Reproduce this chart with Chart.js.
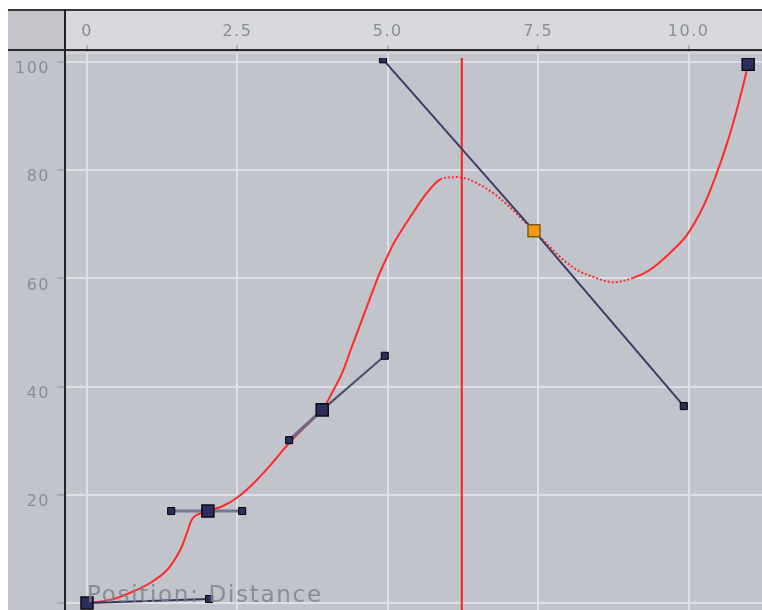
<!DOCTYPE html>
<html>
<head>
<meta charset="utf-8">
<script src="https://cdn.jsdelivr.net/npm/chart.js@4/dist/chart.umd.min.js"></script>
<style>
html,body{margin:0;padding:0;background:#fff;}
canvas{display:block;}
</style>
</head>
<body>
<canvas id="c" width="762" height="610"></canvas>
<script>
// ---- data ----
const keyX = [0, 2.01, 3.91, 7.43, 10.99];
const keyY = [0, 17.0, 35.7, 68.8, 99.6];
const selectedKey = 3;

const handleKey = [0, 1, 1, 2, 2, 3, 3];
const handleX = [2.03, 1.40, 2.58, 3.36, 4.95, 4.92, 9.92];
const handleY = [0.74, 17.0, 17.0, 30.1, 45.7, 100.5, 36.4];

const curveX = [0, 0.38, 0.71, 1.05, 1.33, 1.55, 1.66, 1.76, 1.93, 2.01,
  2.26, 2.51, 2.79, 3.08, 3.36, 3.62, 3.91,
  4.07, 4.24, 4.40, 4.62, 4.84, 4.99, 5.12, 5.37, 5.65, 5.87, 6.07, 6.25, 6.48, 6.75, 6.98, 7.20, 7.43,
  7.86, 8.14, 8.41, 8.74, 9.08, 9.36, 9.69, 9.97, 10.24, 10.44, 10.64, 10.80, 10.94, 10.99];
const curveY = [0, 0.55, 1.85, 3.70, 6.10, 9.80, 12.94, 15.71, 16.82, 17.0,
  17.93, 19.59, 22.37, 25.88, 29.57, 32.53, 35.7,
  38.8, 42.5, 47.3, 53.8, 60.3, 64.0, 66.9, 71.3, 75.8, 78.3, 78.7, 78.6, 77.6, 75.8, 73.7, 71.3, 68.8,
  64.0, 61.6, 60.3, 59.3, 60.1, 61.6, 64.7, 68.0, 73.2, 78.6, 85.0, 91.1, 97.2, 99.6];

const cursorX = 6.23;
const cursorYRange = [-5, 110];

const xTicks = [0, 2.5, 5, 7.5, 10];
const xTickLabels = ['0', '2.5', '5.0', '7.5', '10.0'];
const yTicks = [0, 20, 40, 60, 80, 100];
const yTickLabels = ['', '20', '40', '60', '80', '100'];

const curveName = 'Position: Distance';

// ---- styling ----
const handleStyles = [
  {c:'#34365f', w:2}, {c:'#777994', w:3}, {c:'#777994', w:3},
  {c:'#6a6c8c', w:3}, {c:'#4a4c72', w:2}, {c:'#3b3d66', w:2}, {c:'#3b3d66', w:2}
];
const topClip = {left: 0, top: -6, right: 0, bottom: 0};

const datasets = [];
datasets.push({
  label: 'cursor',
  data: cursorYRange.map(y => ({x: cursorX, y})),
  borderColor: '#ff1e1e', borderWidth: 2, pointRadius: 0, order: 6, clip: topClip
});
datasets.push({
  label: curveName,
  data: curveX.map((x, i) => ({x, y: curveY[i]})),
  borderColor: '#ff2a2a', borderWidth: 2, pointRadius: 0,
  tension: 0.35, order: 5, clip: topClip,
  segment: {
    borderDash: ctx => (ctx.p0.parsed.x >= 5.85 && ctx.p1.parsed.x <= 9.2) ? [2, 2] : undefined
  }
});
handleX.forEach((hx, i) => {
  const k = handleKey[i];
  const st = handleStyles[i];
  datasets.push({
    label: 'handle' + i,
    data: [{x: keyX[k], y: keyY[k]}, {x: hx, y: handleY[i]}],
    borderColor: st.c, borderWidth: st.w,
    pointStyle: 'rect',
    pointRadius: ctx => ctx.dataIndex === 1 ? 5 : 0,
    pointBackgroundColor: '#2b2d5c', pointBorderColor: '#000', pointBorderWidth: 1,
    order: 3, clip: topClip
  });
});
datasets.push({
  label: 'keys',
  data: keyX.map((x, i) => ({x, y: keyY[i]})),
  showLine: false,
  pointStyle: 'rect', pointRadius: 8.5,
  pointBackgroundColor: ctx => ctx.dataIndex === selectedKey ? '#f39a12' : '#2c2e5e',
  pointBorderColor: ctx => ctx.dataIndex === selectedKey ? '#7a6014' : '#0c0c14',
  pointBorderWidth: 1.5, order: 1, clip: topClip
});

const tickFont = {family: 'DejaVu Sans', size: 16};
const labelColor = '#8b8d96';

const frame = {
  id: 'frame',
  beforeDraw(chart) {
    const c = chart.ctx;
    c.save();
    c.fillStyle = '#ffffff'; c.fillRect(0, 0, 762, 610);
    c.fillStyle = '#c1c4cb'; c.fillRect(8, 50, 754, 560);
    c.fillStyle = '#d8d9de'; c.fillRect(65, 10, 697, 40);
    c.fillStyle = '#c3c5cb'; c.fillRect(8, 10, 57, 40);
    c.fillStyle = '#d2d4da'; c.fillRect(66, 52, 696, 2);
    c.restore();
    c.letterSpacing = '1.5px';
  },
  beforeDatasetsDraw(chart) {
    const c = chart.ctx;
    c.save();
    c.fillStyle = '#3a3a3e'; c.fillRect(8, 9, 754, 2);
    c.fillStyle = '#2a2a2e'; c.fillRect(8, 49, 754, 2);
    c.fillStyle = '#222226'; c.fillRect(64, 9, 2, 601);
    c.restore();
  },
  afterDraw(chart) {
    const c = chart.ctx;
    c.save();
    c.letterSpacing = '1.7px';
    c.font = '23px "DejaVu Sans"';
    c.fillStyle = 'rgba(128,130,140,0.85)';
    c.textBaseline = 'alphabetic';
    c.textAlign = 'left';
    c.fillText(curveName, 87, 602);
    c.restore();
  }
};

const noPad = s => { s.paddingTop = 0; s.paddingBottom = 0; s.paddingLeft = 0; s.paddingRight = 0; };

new Chart(document.getElementById('c'), {
  type: 'line',
  data: {datasets},
  plugins: [frame],
  options: {
    responsive: false,
    devicePixelRatio: 1,
    animation: false,
    layout: {autoPadding: false, padding: {left: 8, top: 10, right: 0, bottom: 0}},
    plugins: {legend: {display: false}, tooltip: {enabled: false}},
    scales: {
      x: {
        type: 'linear', position: 'top', min: -0.349, max: 11.22,
        afterBuildTicks: s => { s.ticks = xTicks.map(v => ({value: v})); },
        afterFit: s => { s.height = 42; noPad(s); },
        ticks: {
          callback: (v, i) => xTickLabels[i],
          color: labelColor, font: tickFont, padding: 4,
          maxRotation: 0, autoSkip: false
        },
        grid: {color: '#dfe0e5', lineWidth: 2, tickLength: 7, tickColor: '#8d8f97', tickWidth: 1},
        border: {display: false}
      },
      y: {
        type: 'linear', position: 'left', min: -1.29, max: 101.85,
        afterBuildTicks: s => { s.ticks = yTicks.map(v => ({value: v})); },
        afterFit: s => { s.width = 58; noPad(s); },
        ticks: {
          callback: (v, i) => yTickLabels[i],
          color: labelColor, font: tickFont, padding: 7, labelOffset: 7,
          autoSkip: false
        },
        grid: {color: '#dfe0e5', lineWidth: 2, tickLength: 9, tickColor: '#8d8f97', tickWidth: 1},
        border: {display: false}
      }
    }
  }
});
</script>
</body>
</html>
